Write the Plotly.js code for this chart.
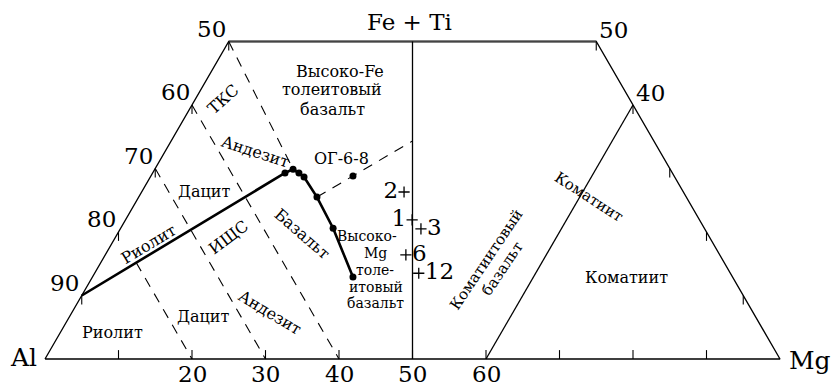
<!DOCTYPE html>
<html><head><meta charset="utf-8">
<script src="https://cdn.plot.ly/plotly-3.0.1.min.js"></script>
<style>html,body{margin:0;padding:0;background:#fff}#chart{width:832px;height:387px}</style>
</head><body><div id="chart"></div>
<script>
// ---- Data (cation %, Al / Fe+Ti / Mg) ----
// truncated ternary frame
const frameAl = [100, 50, 0, 0, 100];
const frameFe = [0, 50, 50, 0, 0];
const frameMg = [0, 0, 50, 100, 0];
// Al = Mg divider
const dividerAl = [50, 25];
const dividerFe = [0, 50];
const dividerMg = [50, 25];
// komatiite boundary (Mg = 60)
const komAl = [40, 0];
const komFe = [0, 40];
const komMg = [60, 60];
// dashed field boundaries (each pair = one segment)
const dashAl = [[80, 80], [70, 70], [60, 60], [50, 51.3], [50.25, 32.9]];
const dashFe = [[15.2, 0], [30, 0], [40, 0], [50, 29.9], [25.5, 34.3]];
const dashMg = [[4.8, 20], [0, 30], [0, 40], [0, 18.8], [24.25, 32.8]];
// calc-alkaline / tholeiite solid trend
const trendAl = [90, 52.7, 51.3, 50.8, 50.4, 50.25, 50.5, 51.65];
const trendFe = [10, 29.3, 29.9, 29.3, 28.66, 25.5, 20.6, 12.9];
const trendMg = [0, 18.0, 18.8, 19.9, 20.9, 24.25, 28.9, 35.45];
// sample ОГ-6-8
const ogAl = [43.7];
const ogFe = [28.8];
const ogMg = [27.5];
// numbered samples
const sampleLabels = ['1', '2', '3', '6', '12'];
const sampleAl = [39.1, 38.0, 38.6, 42.7, 42.4];
const sampleFe = [21.9, 26.3, 20.5, 16.4, 13.5];
const sampleMg = [39.0, 35.7, 40.9, 40.9, 44.1];
// ticks
const baseTicks = [10, 20, 30, 40, 50, 60, 70, 80, 90];
const baseTickLabels = [20, 30, 40, 50, 60];
const leftTicksFe = [10, 20, 30, 40, 50];
const leftTickLabels = [90, 80, 70, 60, 50];
const rightTicksFe = [10, 20, 30, 40, 50];
const rightTickLabels = [50, 40];

// ---- helpers ----
const T = (al, fe, mg) => { const s = al + fe + mg; const f = 100 * fe / s, m = 100 * mg / s; return [m + f / 2, f]; };
function path(al, fe, mg) {
  const x = [], y = [];
  for (let i = 0; i < al.length; i++) { const p = T(al[i], fe[i], mg[i]); x.push(p[0]); y.push(p[1]); }
  return {x, y};
}
const W = 832, H = 387;
const FONT = 'DejaVu Serif';
const traces = [];
const lineTrace = (p, opts) => Object.assign({type: 'scatter', mode: 'lines', x: p.x, y: p.y, hoverinfo: 'skip', cliponaxis: false}, opts);

traces.push(lineTrace(path(frameAl, frameFe, frameMg), {line: {color: '#000', width: 1.3}}));
// top edge (slightly heavier grey)
traces.push(lineTrace(path(frameAl.slice(1, 3), frameFe.slice(1, 3), frameMg.slice(1, 3)), {line: {color: '#444', width: 2.2}}));
traces.push(lineTrace(path(dividerAl, dividerFe, dividerMg), {line: {color: '#000', width: 1.3}}));
traces.push(lineTrace(path(komAl, komFe, komMg), {line: {color: '#000', width: 1.3}}));
for (let i = 0; i < dashAl.length; i++) {
  traces.push(lineTrace(path(dashAl[i], dashFe[i], dashMg[i]), {line: {color: '#000', width: 1.1, dash: '10px,8px'}}));
}
// ticks
(function () {
  const x = [], y = [], L = 1.4;
  baseTicks.forEach(v => { const p = T(100 - v, 0, v); x.push(p[0], p[0], null); y.push(0, L, null); });
  leftTicksFe.forEach(f => { const p = T(100 - f, f, 0); x.push(p[0], p[0], null); y.push(p[1], p[1] - L, null); });
  rightTicksFe.forEach(f => { const p = T(0, f, 100 - f); x.push(p[0], p[0], null); y.push(p[1], p[1] - L, null); });
  traces.push({type: 'scatter', mode: 'lines', x, y, line: {color: '#000', width: 1.1}, hoverinfo: 'skip'});
})();
// trend
const tr = path(trendAl, trendFe, trendMg);
traces.push(lineTrace(tr, {line: {color: '#000', width: 2.6}}));
traces.push({type: 'scatter', mode: 'markers', x: tr.x.slice(1), y: tr.y.slice(1), marker: {color: '#000', size: 7}, hoverinfo: 'skip'});
const og = path(ogAl, ogFe, ogMg);
traces.push({type: 'scatter', mode: 'markers', x: og.x, y: og.y, marker: {color: '#000', size: 7}, hoverinfo: 'skip'});
const sp = path(sampleAl, sampleFe, sampleMg);
traces.push({type: 'scatter', mode: 'markers+text', x: sp.x, y: sp.y, text: sampleLabels,
  textposition: ['middle left', 'middle left', 'middle right', 'middle right', 'middle right'],
  textfont: {family: FONT, size: 23, color: '#000'},
  marker: {symbol: 'cross-thin', size: 8, line: {color: '#000', width: 1.3}}, hoverinfo: 'skip', cliponaxis: false});

// ---- annotations ----
const ann = [];
const P = (px, py) => ({x: px / W, y: 1 - py / H});
function label(text, px, py, size, angle) {
  const p = P(px, py);
  ann.push({text, xref: 'paper', yref: 'paper', x: p.x, y: p.y, xanchor: 'center', yanchor: 'middle', showarrow: false,
    textangle: angle || 0, font: {family: FONT, size, color: '#000'}});
}
function dataLabel(text, x, y, dx, dy, size) {
  ann.push({text, xref: 'x', yref: 'y', x, y, xshift: dx, yshift: dy, xanchor: 'center', yanchor: 'middle', showarrow: false,
    font: {family: FONT, size, color: '#000'}});
}
baseTickLabels.forEach(v => dataLabel(String(v), v, 0, 0, -15, 23));
leftTickLabels.forEach((v, i) => { const f = leftTicksFe[i]; const p = T(100 - f, f, 0); dataLabel(String(v), p[0], p[1], -17, 13, 23); });
rightTickLabels.forEach(v => { const p = T(0, v, 100 - v); dataLabel(String(v), p[0], p[1], 17, 12, 23); });
(function () { const a = T(100, 0, 0), m = T(0, 0, 100), t = T(25, 50, 25);
  dataLabel('Al', a[0], a[1], -22, 2, 25);
  dataLabel('Mg', m[0], m[1], 30, -1, 25);
  dataLabel('Fe + Ti', t[0], t[1], -3, 20, 23);
})();

label('ТКС', 223, 100, 16, -42);
label('Высоко-Fe', 340, 71, 16);
label('толеитовый', 332, 90, 16);
label('базальт', 332, 109, 16);
label('Андезит', 255, 152, 16, 18);
label('ОГ-6-8', 341, 158, 16);
label('Дацит', 204, 191, 16);
label('Риолит', 148, 244, 16, -31);
label('ИЩС', 228, 237, 16, -37);
label('Базальт', 302, 233, 16, 41);
label('Высоко-', 367, 236, 14);
label('Mg', 375, 253, 14);
label('толе-', 375, 270, 14);
label('итовый', 376, 287, 14);
label('базальт', 375, 303, 14);
label('Риолит', 112, 332, 16);
label('Дацит', 203, 316, 16);
label('Андезит', 270, 312, 16, 31);
label('Коматиитовый', 486, 260, 15, -56);
label('базальт', 502, 269, 15, -56);
label('Коматиит', 589, 197, 15, 33);
label('Коматиит', 626, 277, 16);

const pxX = px => (px - 45) / 7.35;
const pxY = py => (359 - py) / 6.35;
const layout = {
  width: W, height: H, margin: {l: 0, r: 0, t: 0, b: 0},
  paper_bgcolor: '#fff', plot_bgcolor: '#fff', showlegend: false,
  xaxis: {range: [pxX(0), pxX(W)], visible: false, fixedrange: true},
  yaxis: {range: [pxY(H), pxY(0)], visible: false, fixedrange: true},
  annotations: ann
};
Plotly.newPlot('chart', traces, layout, {staticPlot: true, displayModeBar: false});
</script></body></html>
